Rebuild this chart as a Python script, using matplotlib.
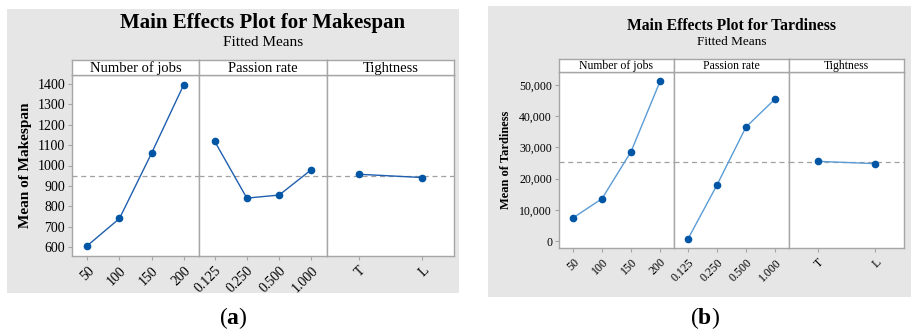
import numpy as np
import matplotlib
matplotlib.use('Agg')
from matplotlib import pyplot as plt
from matplotlib.patches import Rectangle

plt.rcParams['font.family'] = ['Liberation Serif', 'DejaVu Serif']
plt.rcParams['mathtext.fontset'] = 'custom'
plt.rcParams['mathtext.rm'] = 'Liberation Serif'
plt.rcParams['mathtext.bf'] = 'Liberation Serif:bold'

# data
factors = ['Number of jobs', 'Passion rate', 'Tightness']
jobs_levels = ['50', '100', '150', '200']
rate_levels = ['0.125', '0.250', '0.500', '1.000']
tight_levels = ['T', 'L']

makespan_jobs = [607, 740, 1060, 1395]
makespan_rate = [1120, 840, 855, 980]
makespan_tight = [957, 941]

tard_jobs = [7400, 13560, 28630, 51170]
tard_rate = [640, 17950, 36540, 45510]
tard_tight = [25540, 24790]

W, H = 912, 333
fig = plt.figure(figsize=(W / 100, H / 100), dpi=100)
fig.patch.set_facecolor('white')

GRID = '#a6a6a6'
BG = '#e6e6e6'


def fr(x0, y0, x1, y1):
    # pixel box (top-left origin) -> figure rect
    return [x0 / W, 1 - y1 / H, (x1 - x0) / W, (y1 - y0) / H]


def panel(bg, xs, top, bottom, strip_top, ylim, yticks, yfmt, series, levels,
          line_col, title, title_y, sub_y, ylabel, fs, label, label_x):
    r = fr(*bg)
    fig.patches.append(Rectangle((r[0], r[1]), r[2], r[3], transform=fig.transFigure,
                                 facecolor=BG, edgecolor='none', zorder=-5))
    cx = (xs[0] + xs[-1]) / 2 / W
    fig.text(cx, 1 - title_y / H, title, ha='center', va='center',
             fontsize=fs['title'], fontweight='bold')
    fig.text(cx, 1 - sub_y / H, 'Fitted Means', ha='center', va='center',
             fontsize=fs['sub'])
    grand = np.mean(series[0])
    for i in range(3):
        ax = fig.add_axes(fr(xs[i], top, xs[i + 1], bottom))
        ax.set_zorder(1)
        ax.set_facecolor('white')
        vals = series[i]
        n = len(vals)
        x = np.arange(n)
        ax.plot(x, vals, '-', color=line_col, lw=1.0, zorder=3)
        ax.plot(x, vals, 'o', color='#0055a5', ms=4.5, zorder=4)
        ax.axhline(grand, color='#a0a0a0', ls=(0, (4, 3)), lw=0.9, zorder=2)
        ax.set_xlim(-0.48 if n == 4 else -0.5, n - 0.52 if n == 4 else n - 0.5)
        ax.set_ylim(*ylim)
        ax.set_xticks(x)
        ax.set_xticklabels(levels[i], rotation=45, ha='right', va='top',
                           rotation_mode='anchor', fontsize=fs['tick'])
        ax.tick_params(axis='x', length=3, color=GRID, pad=3)
        if i == 0:
            ax.set_yticks(yticks)
            ax.set_yticklabels([yfmt(v) for v in yticks], fontsize=fs['tick'])
            ax.tick_params(axis='y', length=3, color=GRID, pad=2)
            ax.set_ylabel(ylabel, fontsize=fs['ylab'], fontweight='bold', labelpad=fs['lpad'])
        else:
            ax.set_yticks([])
        for s in ax.spines.values():
            s.set_color(GRID)
            s.set_linewidth(1.0)
        st = fig.add_axes(fr(xs[i], strip_top, xs[i + 1], top))
        st.set_zorder(1)
        st.set_facecolor('white')
        st.set_xticks([])
        st.set_yticks([])
        for s in st.spines.values():
            s.set_color(GRID)
            s.set_linewidth(1.0)
        st.text(0.5, 0.45, factors[i], transform=st.transAxes, ha='center',
                va='center', fontsize=fs['strip'])
    fig.text(label_x / W, 1 - 318 / H, r'($\mathbf{' + label + '}$)', ha='center',
             va='center', fontsize=17)


panel((7, 9, 459, 293), [72, 199, 327, 454], 75, 256, 60, (556, 1444),
      [600, 700, 800, 900, 1000, 1100, 1200, 1300, 1400], lambda v: str(v),
      [makespan_jobs, makespan_rate, makespan_tight],
      [jobs_levels, rate_levels, tight_levels], '#1f5fae',
      'Main Effects Plot for Makespan', 23, 43, 'Mean of Makespan',
      dict(title=15, sub=11, tick=10, strip=10.5, ylab=11, lpad=4), 'a', 233)

panel((488, 6, 912, 297), [559, 674, 789, 904], 72, 248, 59, (-2240, 54170),
      [0, 10000, 20000, 30000, 40000, 50000], lambda v: f'{v:,}',
      [tard_jobs, tard_rate, tard_tight],
      [jobs_levels, rate_levels, tight_levels], '#5b9bd5',
      'Main Effects Plot for Tardiness', 26, 42, 'Mean of Tardiness',
      dict(title=11.25, sub=9.5, tick=8.5, strip=8.5, ylab=9, lpad=5), 'b', 705)

fig.savefig('out.png', dpi=100, facecolor='white')
